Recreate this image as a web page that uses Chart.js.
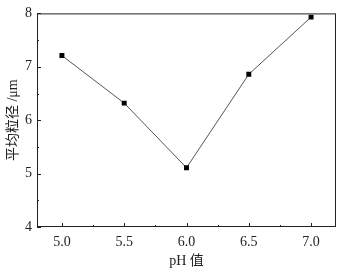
<!DOCTYPE html>
<html>
<head>
<meta charset="utf-8">
<script src="https://cdn.jsdelivr.net/npm/chart.js@4/dist/chart.umd.min.js"></script>
<style>
  html, body { margin: 0; padding: 0; background: #fff; }
  #wrap { width: 346px; height: 273px; }
</style>
</head>
<body>
<div id="wrap"><canvas id="phChart" width="346" height="273"></canvas></div>
<script>
// pH vs mean particle size
const phValues = [5.0, 5.5, 6.0, 6.5, 7.0];
const sizeValues = [7.21, 6.32, 5.11, 6.86, 7.93];
const xTicks = [5.0, 5.5, 6.0, 6.5, 7.0];
const yTicks = [4, 5, 6, 7, 8];

const serif = '"Liberation Serif", "Times New Roman", "Noto Sans CJK SC", serif';

// frame + inward tick marks (major and minor)
const framePlugin = {
    id: 'frame',
    afterDatasetsDraw(chart) {
        const ctx = chart.ctx;
        const a = chart.chartArea;
        const xs = chart.scales.x, ys = chart.scales.y;
        ctx.save();
        ctx.strokeStyle = '#222';
        ctx.lineWidth = 1;
        ctx.strokeRect(a.left + 0.5, a.top + 0.5, a.right - a.left - 1, a.bottom - a.top - 1);
        ctx.beginPath();
        xTicks.forEach((v, i) => {
            const px = Math.round(xs.getPixelForValue(v)) + 0.5;
            ctx.moveTo(px, a.bottom); ctx.lineTo(px, a.bottom - 4);
            if (i < xTicks.length - 1) {
                const mx = Math.round(xs.getPixelForValue(v + 0.25)) + 0.5;
                ctx.moveTo(mx, a.bottom); ctx.lineTo(mx, a.bottom - 2);
            }
        });
        yTicks.forEach((v, i) => {
            const py = Math.round(ys.getPixelForValue(v)) + 0.5;
            ctx.moveTo(a.left, py); ctx.lineTo(a.left + 4, py);
            if (i < yTicks.length - 1) {
                const my = Math.round(ys.getPixelForValue(v + 0.5)) + 0.5;
                ctx.moveTo(a.left, my); ctx.lineTo(a.left + 2, my);
            }
        });
        ctx.stroke();
        ctx.restore();
    }
};

new Chart(document.getElementById('phChart'), {
    type: 'line',
    data: {
        datasets: [{
            data: phValues.map((x, i) => ({ x: x, y: sizeValues[i] })),
            borderColor: '#555',
            borderWidth: 1,
            pointStyle: 'rect',
            pointRadius: 3.5,
            pointBackgroundColor: '#000',
            pointBorderColor: '#000',
            pointBorderWidth: 0,
            tension: 0
        }]
    },
    options: {
        responsive: false,
        animation: false,
        layout: { padding: { top: 7, right: 10, left: 0, bottom: 0 } },
        plugins: { legend: { display: false }, tooltip: { enabled: false } },
        scales: {
            x: {
                type: 'linear',
                min: 4.8,
                max: 7.2,
                afterBuildTicks(scale) { scale.ticks = xTicks.map(v => ({ value: v })); },
                afterFit(scale) { scale.height = 46; },
                grid: { display: false, drawTicks: false },
                border: { display: false },
                ticks: {
                    padding: 7,
                    color: '#222',
                    font: { family: serif, size: 14 },
                    callback: v => v.toFixed(1)
                },
                title: {
                    display: true,
                    text: 'pH 值',
                    color: '#222',
                    padding: { top: 2, bottom: 3 },
                    font: { family: serif, size: 14 }
                }
            },
            y: {
                min: 4,
                max: 8,
                afterBuildTicks(scale) { scale.ticks = yTicks.map(v => ({ value: v })); },
                afterFit(scale) { scale.width = 37; },
                grid: { display: false, drawTicks: false },
                border: { display: false },
                ticks: {
                    padding: 5,
                    color: '#222',
                    font: { family: serif, size: 14 }
                },
                title: {
                    display: true,
                    text: '平均粒径 /μm',
                    color: '#222',
                    padding: { top: 5, bottom: 0 },
                    font: { family: serif, size: 14 }
                }
            }
        }
    },
    plugins: [framePlugin]
});
</script>
</body>
</html>
